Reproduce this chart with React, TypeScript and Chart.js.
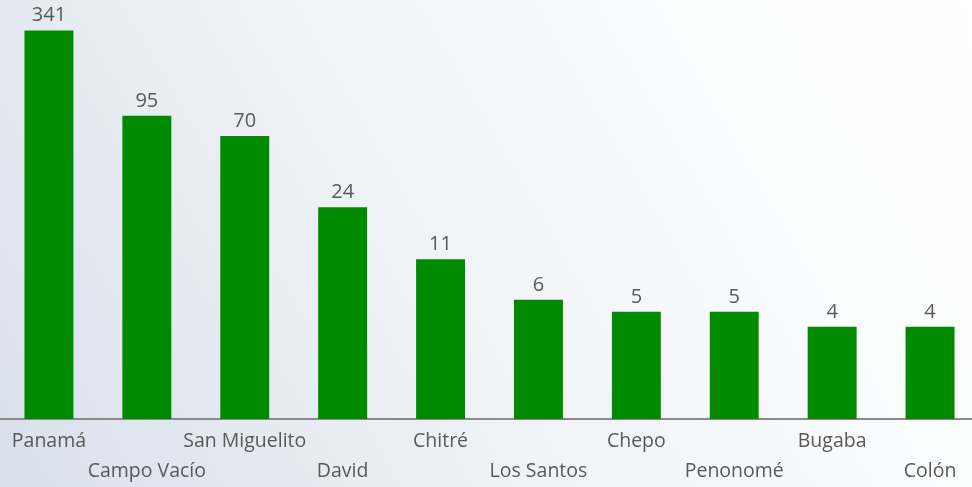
import React, { useEffect, useRef } from "react";
import { Chart, registerables } from "chart.js";

Chart.register(...registerables);

const categories = ["Panamá", "Campo Vacío", "San Miguelito", "David", "Chitré", "Los Santos", "Chepo", "Penonomé", "Bugaba", "Colón"];
const values = [341, 95, 70, 24, 11, 6, 5, 5, 4, 4];

const FONT = "'Open Sans', 'Noto Sans', sans-serif";

const valueLabels = {
  id: "valueLabels",
  afterDatasetsDraw(chart: any) {
    const ctx = chart.ctx;
    const meta = chart.getDatasetMeta(0);
    ctx.save();
    ctx.font = `20px ${FONT}`;
    ctx.fillStyle = "#595959";
    ctx.textAlign = "center";
    ctx.textBaseline = "alphabetic";
    meta.data.forEach((bar: any, i: number) => {
      ctx.fillText(String(values[i]), bar.x, bar.y - 9);
    });
    ctx.restore();
  },
};

export default function App() {
  const ref = useRef<HTMLCanvasElement | null>(null);
  useEffect(() => {
    if (!ref.current) return;
    const chart = new Chart(ref.current, {
      type: "bar",
      data: {
        labels: categories,
        datasets: [
          {
            data: values,
            backgroundColor: "#008a00",
            borderWidth: 0,
            categoryPercentage: 1,
            barPercentage: 0.5,
          },
        ],
      },
      options: {
        animation: false,
        responsive: false,
        maintainAspectRatio: false,
        layout: { padding: { top: 0, left: 0, right: 0, bottom: 0 } },
        plugins: { legend: { display: false }, tooltip: { enabled: false } },
        scales: {
          x: {
            grid: { display: false, drawTicks: false },
            border: { display: true, color: "#8a8a8a", width: 2 },
            afterFit: (scale: any) => {
              scale.height = 68;
            },
            ticks: {
              autoSkip: false,
              maxRotation: 0,
              minRotation: 0,
              padding: 7,
              color: "#595959",
              font: { family: FONT, size: 19.5, lineHeight: 30 / 19.5 },
              callback: (_v: any, i: number) => (i % 2 === 0 ? [categories[i]] : ["", categories[i]]),
            },
          },
          y: {
            type: "logarithmic",
            min: 1,
            max: 539,
            display: false,
          },
        },
      },
      plugins: [valueLabels],
    });
    return () => chart.destroy();
  }, []);
  return (
    <div
      style={{
        position: "fixed",
        left: 0,
        top: 0,
        width: 972,
        height: 487,
        overflow: "hidden",
        background: "linear-gradient(60deg, #d8e0eb 0%, #eef1f6 40%, #fbfcfd 75%, #ffffff 100%)",
      }}
    >
      <canvas ref={ref} width={979} height={487} style={{ display: "block" }} />
    </div>
  );
}
